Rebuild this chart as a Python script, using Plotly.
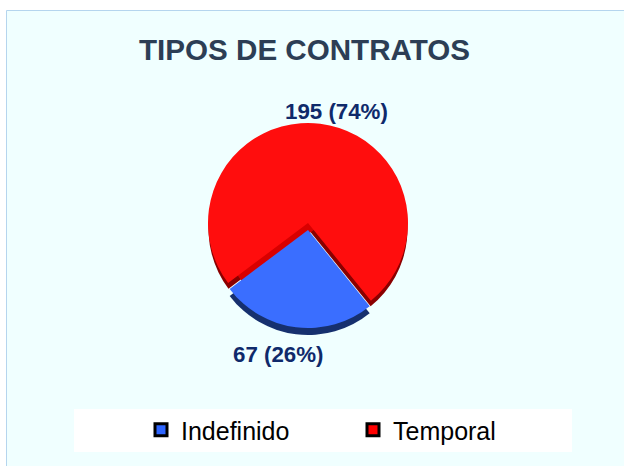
import plotly.graph_objects as go

W, H = 624, 466
title = "TIPOS DE CONTRATOS"
labels = ["Indefinido", "Temporal"]
values = [67, 195]
colors = ["#3A6EFF", "#FF0D0D"]
legend_colors = ["#2F66FF", "#FF0000"]
blue_side = "#16306E"
red_side = "#8A0000"
red_cut = "#D80000"
clear = "rgba(0,0,0,0)"
total = sum(values)
texts = [f"{v} ({round(100 * v / total)}%)" for v in values]


def layer(cx, cy, r, cols, showlegend=False, line=0):
    return go.Pie(
        labels=labels, values=values, sort=False, direction="clockwise", rotation=141,
        domain=dict(x=[(cx - r) / W, (cx + r) / W], y=[1 - (cy + r) / H, 1 - (cy - r) / H]),
        marker=dict(colors=cols, line=dict(width=line, color="#000000")),
        textinfo="none", hoverinfo="skip", showlegend=showlegend,
    )


fig = go.Figure()
# tiny pie that carries the legend swatches, hidden beneath the main pie
fig.add_trace(layer(308, 224, 1, legend_colors, showlegend=True, line=3))
# extruded sides of the red slice
fig.add_trace(layer(308, 229, 99.5, [clear, red_side]))
fig.add_trace(layer(315, 229, 90, [clear, red_cut]))
fig.add_trace(layer(308, 223, 100, [clear, colors[1]]))
# blue slice, pulled out of the pie, with its side
fig.add_trace(layer(308, 237, 98, [blue_side, clear]))
fig.add_trace(layer(308, 230, 98, [colors[0], clear]))

fig.update_layout(
    width=W, height=H, margin=dict(l=0, r=0, t=0, b=0),
    paper_bgcolor="#FFFFFF", font=dict(family="Liberation Sans"),
    shapes=[
        dict(type="rect", xref="paper", yref="paper", layer="below",
             x0=6.5 / W, x1=1.01, y0=-0.01, y1=1 - 10.5 / H,
             fillcolor="#F0FFFF", line=dict(color="#B5D5EE", width=1)),
        dict(type="rect", xref="paper", yref="paper", layer="below",
             x0=74 / W, x1=572 / W, y0=1 - 452 / H, y1=1 - 409 / H,
             fillcolor="#FFFFFF", line=dict(width=0)),
    ],
    annotations=[
        dict(text=title, x=304 / W, y=1 - 49 / H, xref="paper", yref="paper", showarrow=False,
             font=dict(size=29.6, color="#2C3E55", family="Liberation Sans"), xanchor="center", yanchor="middle"),
        dict(text=texts[1], x=336 / W, y=1 - 111 / H, xref="paper", yref="paper", showarrow=False,
             font=dict(size=22.3, color="#0F2A6B", family="Liberation Sans"), xanchor="center", yanchor="middle"),
        dict(text=texts[0], x=278 / W, y=1 - 354 / H, xref="paper", yref="paper", showarrow=False,
             font=dict(size=22.3, color="#0F2A6B", family="Liberation Sans"), xanchor="center", yanchor="middle"),
    ],
    legend=dict(orientation="h", x=141 / W, y=1 - 430 / H, xanchor="left", yanchor="middle",
                bgcolor=clear, font=dict(size=25, color="#000000"), entrywidth=167,
                entrywidthmode="pixels", itemwidth=30),
)
fig.update_annotations(font_weight="bold")
fig.write_html("out.html", config=dict(displayModeBar=False), post_script="document.body.style.margin='0';")
